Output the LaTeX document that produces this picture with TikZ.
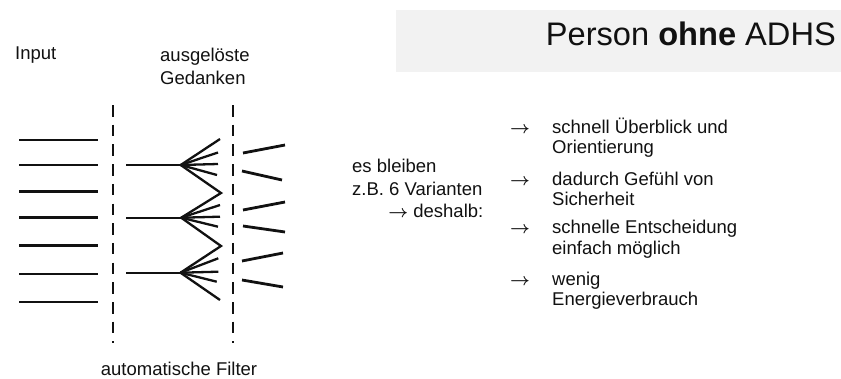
\documentclass[tikz,border=0pt]{standalone}
\usepackage{fontspec}
\setmainfont{Liberation Sans}
\definecolor{boxgrey}{HTML}{F2F2F2}
\definecolor{ink}{HTML}{111111}
\newcommand{\thenarrow}{{\boldmath$\rightarrow$}}
\begin{document}
\begin{tikzpicture}[x=1pt,y=-1pt,
  inputline/.style={line width=2.8pt, draw=ink},
  filterline/.style={line width=2.8pt, draw=ink, dash pattern=on 11.5pt off 8.2pt},
  branch/.style={line width=2.3pt, draw=ink},
  txt/.style={font=\fontsize{18.5}{21}\selectfont, inner sep=0pt, text=ink},
  titletxt/.style={font=\fontsize{32.6}{36}\selectfont, inner sep=0pt, text=ink}]
\useasboundingbox (0,0) rectangle (841,378);

% heading panel
\fill[boxgrey] (396,10) rectangle (841,72);
\node[titletxt, anchor=base east] (title) at (836,45) {Person \textbf{ohne} ADHS};

% column labels
\node[txt, anchor=base west] (input) at (15,59.5) {Input};
\node[txt, anchor=base west] (thoughtsA) at (160,61) {ausgelöste};
\node[txt, anchor=base west] (thoughtsB) at (160,84) {Gedanken};
\node[txt, anchor=base] (filter) at (179,375) {automatische Filter};

% incoming stimuli
\foreach \y [count=\i] in {140,165,191.7,217.7,245.7,274,302}{
  \coordinate (inL\i) at (19,\y);
  \coordinate (inR\i) at (98,\y);
  \draw[inputline] (inL\i) -- (inR\i);
}

% the two filter stages
\coordinate (f1top) at (113,105);
\coordinate (f1bot) at (113,342.5);
\coordinate (f2top) at (233,105);
\coordinate (f2bot) at (233,342.5);
\draw[filterline] (f1top) -- (f1bot);
\draw[filterline] (f2top) -- (f2bot);

% passed stimuli and their branching thoughts
\coordinate (h1) at (180.7,165);
\coordinate (h2) at (181.2,217.7);
\coordinate (h3) at (180.5,272.7);
\coordinate (z1) at (221,193);
\coordinate (z2) at (221,246);
\foreach \h/\y in {h1/165,h2/217.7,h3/272.7}{
  \coordinate (s\h) at (126,\y);
  \draw[branch] (s\h) -- (\h);
}
\draw[branch, line join=miter] (h1) -- (z1) -- (h2) -- (z2) -- (h3);
\foreach \px/\py in {220/139,218/152.5,218/164,217/175}
  \draw[branch] (h1) -- (\px,\py);
\foreach \px/\py in {220/205,220/216.7,218/226.7}
  \draw[branch] (h2) -- (\px,\py);
\foreach \px/\py in {218.3/258.3,218.3/271.7,216.7/281.7,220/300}
  \draw[branch] (h3) -- (\px,\py);

% remaining variants behind the second filter
\foreach \ax/\ay/\bx/\by [count=\i] in {243/153/285/145,242/171/282/180,243/210/285/202,243/226/285/232,242/261/283/253,242/280/283/287}{
  \coordinate (vA\i) at (\ax,\ay);
  \coordinate (vB\i) at (\bx,\by);
  \draw[inputline] (vA\i) -- (vB\i);
}

% summary
\node[txt, anchor=base west] (restA) at (352,172.7) {es bleiben};
\node[txt, anchor=base west] (restB) at (352,195) {z.B. 6 Varianten};
\node[txt, anchor=base east] (restC) at (483.5,217) {\thenarrow\ deshalb:};

% consequences
\foreach \yb/\ya/\first/\second [count=\i] in {
  133/153/{schnell Überblick und}/{Orientierung},
  185/205/{dadurch Gefühl von}/{Sicherheit},
  233/254/{schnelle Entscheidung}/{einfach möglich},
  285/305/{wenig}/{Energieverbrauch}}{
  \node[txt, anchor=base west] (arr\i) at (510,\yb) {\thenarrow};
  \node[txt, anchor=base west] (itemA\i) at (552,\yb) {\first};
  \node[txt, anchor=base west] (itemB\i) at (552,\ya) {\second};
}
\end{tikzpicture}
\end{document}
